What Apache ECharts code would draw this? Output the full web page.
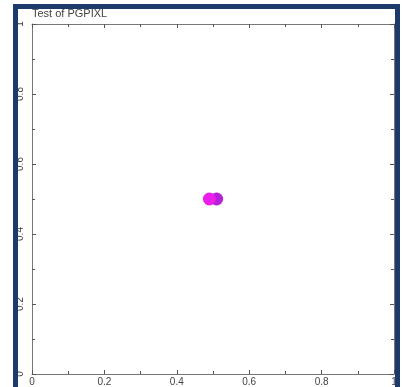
<!DOCTYPE html>
<html>
<head>
<meta charset="utf-8">
<script src="https://cdn.jsdelivr.net/npm/echarts@6/dist/echarts.min.js"></script>
<style>
html,body{margin:0;padding:0;background:#fff;}
#c{width:402px;height:387px;}
</style>
</head>
<body>
<div id="c"></div>
<script>
var titleText = "Test of PGPIXL";
var xTicks = [0, 0.2, 0.4, 0.6, 0.8, 1];
var yTicks = [0, 0.2, 0.4, 0.6, 0.8, 1];
var pixelX = [0.510, 0.490];
var pixelY = [0.5, 0.5];
var pixelColors = ["#b521d8", "#ea1fea"];

var chart = echarts.init(document.getElementById('c'), null, {renderer: 'canvas'});
function makeAxis(extra){
  var a = {
    type: 'value', min: 0, max: 1, interval: 0.2,
    axisLine: {show: true, onZero: false, lineStyle: {color: '#777', width: 1}},
    axisTick: {show: true, inside: true, length: 4, lineStyle: {color: '#555'}},
    minorTick: {show: true, splitNumber: 2, length: 3, lineStyle: {color: '#555'}},
    splitLine: {show: false},
    minorSplitLine: {show: false}
  };
  for (var k in extra) a[k] = extra[k];
  return a;
}
function fmt(v){ return String(Math.round(v*10)/10); }
var labelStyle = {fontSize: 10, color: '#444', fontFamily: 'Liberation Sans, sans-serif'};
var option = {
  animation: false,
  backgroundColor: '#fff',
  title: {
    text: titleText, left: 32, top: 8, padding: 0,
    textStyle: {fontSize: 11, fontWeight: 'normal', color: '#444', fontFamily: 'Liberation Sans, sans-serif'}
  },
  grid: {left: 32, top: 24, width: 362, height: 350, containLabel: false},
  xAxis: [
    makeAxis({position: 'bottom',
      axisLabel: Object.assign({show: true, margin: 3,
        formatter: function(v){ return xTicks.indexOf(Math.round(v*10)/10) >= 0 ? fmt(v) : ''; }}, labelStyle)}),
    makeAxis({position: 'top', axisLabel: {show: false}})
  ],
  yAxis: [
    makeAxis({position: 'left',
      axisLabel: Object.assign({show: true, rotate: 90, margin: 7,
        formatter: function(v){ return yTicks.indexOf(Math.round(v*10)/10) >= 0 ? fmt(v) : ''; }}, labelStyle)}),
    makeAxis({position: 'right', axisLabel: {show: false}})
  ],
  series: [{
    type: 'scatter',
    xAxisIndex: 0, yAxisIndex: 0,
    symbol: 'circle', symbolSize: 13,
    data: pixelX.map(function(x, i){
      return {value: [x, pixelY[i]], itemStyle: {color: pixelColors[i], opacity: 1}};
    })
  }, {
    type: 'scatter', xAxisIndex: 1, yAxisIndex: 1, symbolSize: 0, silent: true, data: []
  }],
  graphic: [{
    type: 'rect', z: 100, silent: true,
    shape: {x: 15.5, y: 6.5, width: 382, height: 400},
    style: {fill: 'none', stroke: '#1c3a6b', lineWidth: 5}
  }]
};
chart.setOption(option);
</script>
</body>
</html>
